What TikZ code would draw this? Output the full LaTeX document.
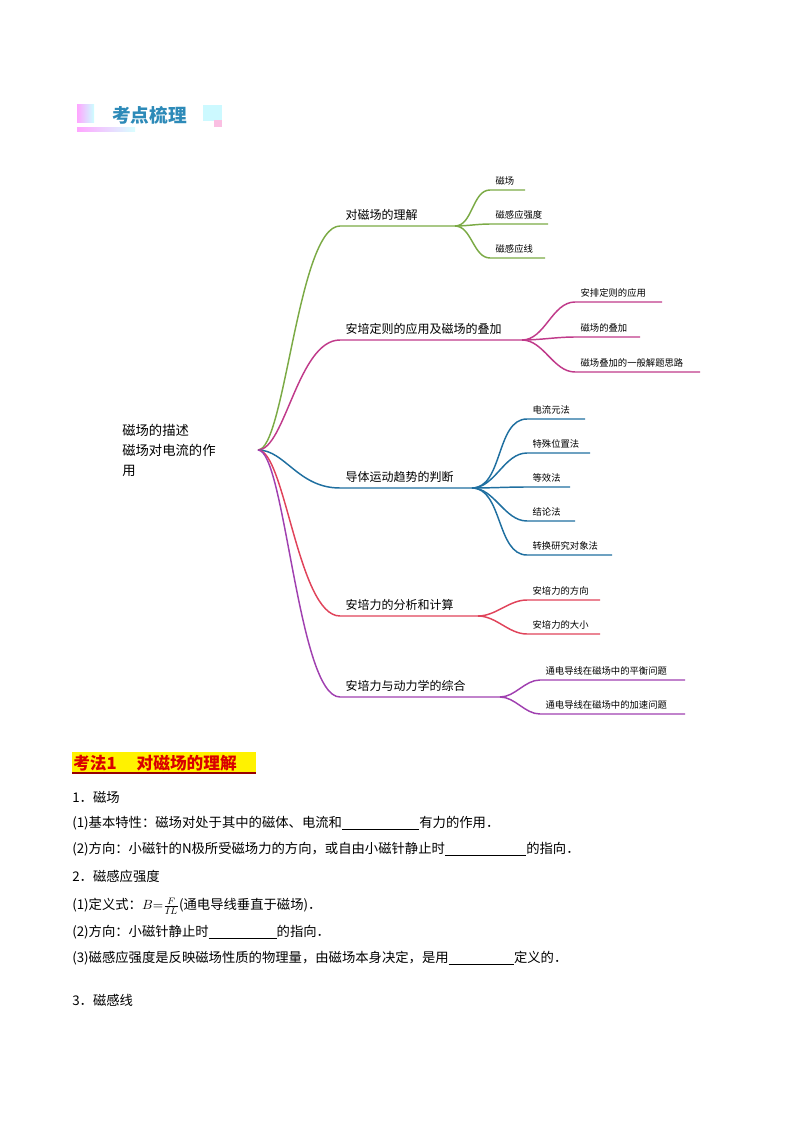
\documentclass[tikz,border=0pt]{standalone}
\usepackage{amsmath}
\usepackage{fontspec}
\setmainfont{Noto Sans CJK SC}
\begin{document}
\begin{tikzpicture}[x=0.75pt,y=-0.75pt,
  br/.style={line width=1.1pt},
  sub/.style={line width=1.1pt},
  bl/.style={anchor=south west,font=\fontsize{9}{10}\selectfont,inner sep=1pt},
  sl/.style={anchor=south west,font=\fontsize{7}{8}\selectfont,inner sep=1pt},
  tx/.style={anchor=west,font=\fontsize{10}{12}\selectfont,inner sep=0pt}]
\useasboundingbox (0,0) rectangle (794,1123);
\definecolor{colG}{HTML}{7BAA45}
\definecolor{colM}{HTML}{C03A8A}
\definecolor{colB}{HTML}{1F6FA0}
\definecolor{colR}{HTML}{E0435A}
\definecolor{colP}{HTML}{A040B0}
\definecolor{hb}{HTML}{2D8AB8}
% header
\shade[left color=magenta!35,right color=cyan!20] (77,105) rectangle (94,123);
\shade[left color=magenta!35,right color=cyan!15] (77,128) rectangle (135,132);
\fill[blue!12!cyan!20] (203,105) rectangle (222,121);
\fill[magenta!25] (214,120) rectangle (222,127);
\node[anchor=west,font=\fontsize{14}{15}\selectfont\bfseries,text=hb,inner sep=0pt] (hdr) at (112,115) {考点梳理};
% root
\node[anchor=north west,align=left,font=\fontsize{10}{15}\selectfont,inner sep=0pt] (root) at (122,424) {磁场的描述\\磁场对电流的作\\用};
\coordinate (R) at (258,450);
% branches
\foreach \c/\y/\e/\t/\n in {colG/226/455/对磁场的理解/b1, colM/340/522/安培定则的应用及磁场的叠加/b2, colB/488/472/导体运动趋势的判断/b3, colR/616/478/安培力的分析和计算/b4, colP/697/500/安培力与动力学的综合/b5}{
  \coordinate (\n s) at (340,\y);
  \coordinate (\n) at (\e,\y);
  \draw[br,color=\c] (R) .. controls (285,450) and (298,\y) .. (\n s) -- (\n);
  \node[bl] (\n l) at (344,\y-4) {\t};
}
\foreach \b/\c/\x/\y/\e/\t/\n in {
 b1/colG/490/190/525/磁场/s11, b1/colG/490/224/548/磁感应强度/s12, b1/colG/490/258/545/磁感应线/s13,
 b2/colM/575/302/662/安排定则的应用/s21, b2/colM/575/337/640/磁场的叠加/s22, b2/colM/575/372/700/磁场叠加的一般解题思路/s23,
 b3/colB/527/419/585/电流元法/s31, b3/colB/527/453/590/特殊位置法/s32, b3/colB/527/487/570/等效法/s33, b3/colB/527/521/575/结论法/s34, b3/colB/527/555/612/转换研究对象法/s35,
 b4/colR/527/600/600/安培力的方向/s41, b4/colR/527/634/600/安培力的大小/s42,
 b5/colP/540/680/685/通电导线在磁场中的平衡问题/s51, b5/colP/540/714/685/通电导线在磁场中的加速问题/s52}{
  \coordinate (\n a) at (\x,\y);
  \coordinate (\n b) at (\e,\y);
  \draw[sub,color=\c] (\b) to[out=0,in=180,looseness=0.9] (\n a) -- (\n b);
  \node[sl] (\n l) at (\x+4,\y-3) {\t};
}
% bottom text
\fill[yellow] (72,752) rectangle (256,774);
\node[anchor=west,inner sep=0pt,text=red!85!black,font=\fontsize{12.5}{14}\selectfont\bfseries] (kf) at (73,763) {考法1\hspace{1.2em}对磁场的理解};
\draw[red!60!black,line width=0.8pt] (72,773) -- (256,773);
\node[tx] (l1) at (72,797) {1．磁场};
\node[tx] (l2) at (72,823) {(1)基本特性：磁场对处于其中的磁体、电流和\rule[-2pt]{58pt}{0.5pt}有力的作用．};
\node[tx] (l3) at (72,849) {(2)方向：小磁针的N极所受磁场力的方向，或自由小磁针静止时\rule[-2pt]{61pt}{0.5pt}的指向．};
\node[tx] (l4) at (72,876) {2．磁感应强度};
\node[tx] (l5) at (72,906) {(1)定义式：$B{=}\genfrac{}{}{0.4pt}{1}{F}{IL}$(通电导线垂直于磁场)．};
\node[tx] (l6) at (72,932) {(2)方向：小磁针静止时\rule[-2pt]{51pt}{0.5pt}的指向．};
\node[tx] (l7) at (72,958) {(3)磁感应强度是反映磁场性质的物理量，由磁场本身决定，是用\rule[-2pt]{49pt}{0.5pt}定义的．};
\node[tx] (l8) at (72,1000) {3．磁感线};
\end{tikzpicture}
\end{document}
